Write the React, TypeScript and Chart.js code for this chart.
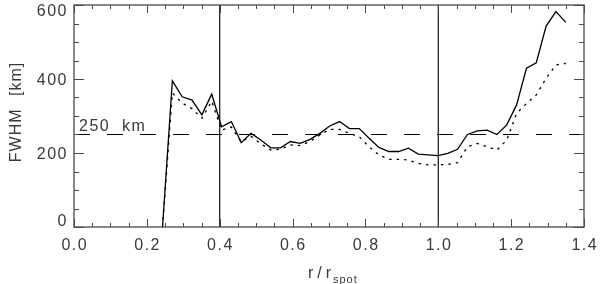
import React, { useEffect, useRef } from "react";
import { Chart, registerables } from "chart.js";

Chart.register(...registerables);

// r / r_spot sample positions
const radius = [
  0.243, 0.27, 0.297, 0.324, 0.351, 0.378, 0.405, 0.432, 0.459, 0.486, 0.513,
  0.54, 0.567, 0.594, 0.621, 0.648, 0.675, 0.702, 0.729, 0.756, 0.783, 0.81,
  0.837, 0.864, 0.891, 0.918, 0.945, 0.972, 0.999, 1.026, 1.053, 1.08, 1.107,
  1.134, 1.161, 1.188, 1.215, 1.242, 1.269, 1.296, 1.323, 1.35,
];
// FWHM [km], solid curve
const fwhmSolid = [
  0, 395, 352, 343, 303, 359, 271, 285, 228, 253, 235, 214, 214, 231, 226, 237,
  253, 273, 285, 266, 266, 240, 215, 204, 204, 213, 197, 195, 193, 199, 210,
  250, 260, 262, 250, 276, 330, 429, 444, 543, 582, 553,
];
// FWHM [km], dotted curve
const fwhmDotted = [
  0, 362, 335, 320, 294, 340, 262, 270, 230, 245, 225, 208, 210, 222, 220, 231,
  249, 264, 264, 253, 244, 217, 195, 183, 183, 181, 172, 168, 168, 169, 174,
  217, 226, 217, 208, 235, 307, 334, 357, 402, 438, 442,
];
const refLevel = 250;
const refLabel = "250  km";
const markerRadii = [0.4, 1.0];
const xTickValues = [0, 0.2, 0.4, 0.6, 0.8, 1.0, 1.2, 1.4];
const xTickLabels = ["0.0", "0.2", "0.4", "0.6", "0.8", "1.0", "1.2", "1.4"];
const yTickValues = [0, 200, 400, 600];
const yTickLabels = ["0", "200", "400", "600"];
const xMin = 0;
const xMax = 1.4;
const yMin = 0;
const yMax = 600;
const yTitle = "FWHM [km]";
const xTitleMain = "r/r";
const xTitleSub = "spot";

const FONT = '"Liberation Sans", Arial, sans-serif';
const TEXT = "#3a3a3a";
const AXIS = "#4a4a4a";

const framePlugin = {
  id: "idlFrame",
  afterDraw(chart: any) {
    const ctx = chart.ctx as CanvasRenderingContext2D;
    const { left, right, top, bottom } = chart.chartArea;
    const xs = chart.scales.x;
    const ys = chart.scales.y;
    ctx.save();
    // frame
    ctx.strokeStyle = AXIS;
    ctx.lineWidth = 1.3;
    ctx.strokeRect(left, top, right - left, bottom - top);
    // x ticks (minor every 0.05)
    ctx.lineWidth = 1;
    for (let i = 0; i <= 28; i++) {
      const v = i * 0.05;
      const px = Math.round(xs.getPixelForValue(v)) + 0.5;
      const len = i % 4 === 0 ? 8 : 4;
      ctx.beginPath();
      ctx.moveTo(px, bottom);
      ctx.lineTo(px, bottom - len);
      ctx.moveTo(px, top);
      ctx.lineTo(px, top + len);
      ctx.stroke();
    }
    // y ticks (minor every 50)
    for (let i = 0; i <= 12; i++) {
      const v = i * 50;
      const py = Math.round(ys.getPixelForValue(v)) + 0.5;
      const len = i % 4 === 0 ? 10 : 5;
      ctx.beginPath();
      ctx.moveTo(left, py);
      ctx.lineTo(left + len, py);
      ctx.moveTo(right, py);
      ctx.lineTo(right - len, py);
      ctx.stroke();
    }
    // labels
    ctx.fillStyle = TEXT;
    ctx.font = `16px ${FONT}`;
    (ctx as any).letterSpacing = "1.5px";
    ctx.textAlign = "center";
    ctx.textBaseline = "middle";
    xTickValues.forEach((v, i) => {
      const px = xs.getPixelForValue(v) + 0.75;
      ctx.fillText(xTickLabels[i], px, bottom + 19);
    });
    ctx.textAlign = "right";
    yTickValues.forEach((v, i) => {
      let py = ys.getPixelForValue(v) + 1.5;
      py = Math.max(top + 6.5, Math.min(bottom - 5.5, py));
      ctx.fillText(yTickLabels[i], left - 6, py);
    });
    // reference label
    ctx.textAlign = "left";
    ctx.textBaseline = "alphabetic";
    ctx.fillText(refLabel, left + 5, ys.getPixelForValue(refLevel) - 4);
    // x title
    (ctx as any).letterSpacing = "4px";
    ctx.fillText(xTitleMain, 308, 278);
    ctx.font = `11px ${FONT}`;
    (ctx as any).letterSpacing = "1px";
    ctx.fillText(xTitleSub, 333, 283);
    // y title
    ctx.font = `16px ${FONT}`;
    (ctx as any).letterSpacing = "1px";
    (ctx as any).wordSpacing = "7px";
    ctx.translate(21, (top + bottom) / 2 - 4);
    ctx.rotate(-Math.PI / 2);
    ctx.textAlign = "center";
    ctx.fillText(yTitle, 0, 0);
    ctx.restore();
  },
};

export default function App() {
  const ref = useRef<HTMLCanvasElement | null>(null);
  useEffect(() => {
    document.body.style.margin = "0";
    const canvas = ref.current;
    if (!canvas) return;
    const lineData = (ys: number[]) => radius.map((x, i) => ({ x, y: ys[i] }));
    const datasets: any[] = [
      {
        data: lineData(fwhmSolid),
        borderColor: "#000",
        borderWidth: 1.3,
        pointRadius: 0,
        tension: 0,
      },
      {
        data: lineData(fwhmDotted),
        borderColor: "#000",
        borderWidth: 1.3,
        borderDash: [2.5, 5],
        pointRadius: 0,
        tension: 0,
      },
      {
        data: [
          { x: xMin, y: refLevel },
          { x: xMax, y: refLevel },
        ],
        borderColor: "#000",
        borderWidth: 1.2,
        borderDash: [16, 17],
        pointRadius: 0,
      },
      ...markerRadii.map((r) => ({
        data: [
          { x: r, y: yMin },
          { x: r, y: yMax },
        ],
        borderColor: "#111",
        borderWidth: 1.2,
        pointRadius: 0,
      })),
    ];
    const chart = new Chart(canvas, {
      type: "line",
      data: { datasets },
      options: {
        animation: false,
        responsive: false,
        events: [],
        layout: { padding: { left: 74, right: 16, top: 5, bottom: 57 } },
        plugins: {
          legend: { display: false },
          tooltip: { enabled: false },
        },
        scales: {
          x: { type: "linear", min: xMin, max: xMax, display: false },
          y: { type: "linear", min: yMin, max: yMax, display: false },
        },
      },
      plugins: [framePlugin],
    });
    return () => chart.destroy();
  }, []);
  return (
    <canvas
      ref={ref}
      width={600}
      height={284}
      style={{ display: "block", width: 600, height: 284, background: "#fff" }}
    />
  );
}
